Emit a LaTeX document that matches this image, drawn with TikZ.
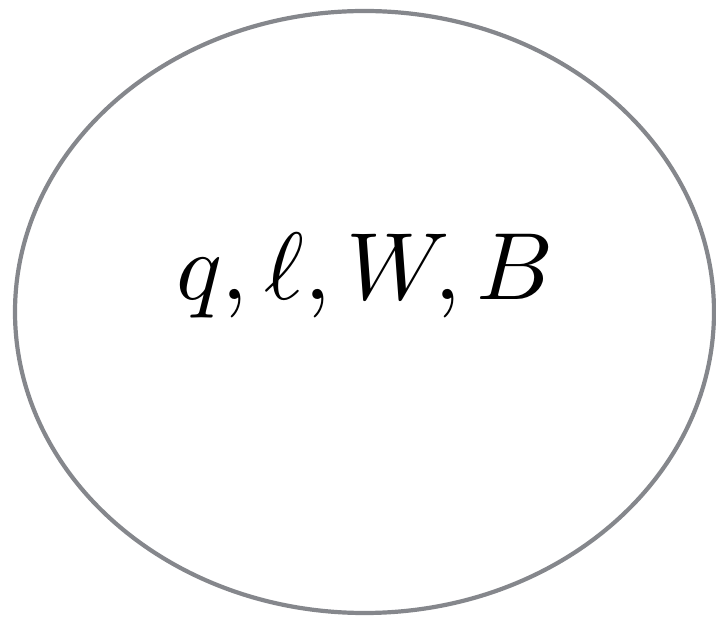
\documentclass[tikz,border=0pt]{standalone}
\definecolor{rimgray}{RGB}{133,135,140}
\tikzset{bubble/.style={draw=rimgray, line width=4.2pt, fill=white}}
\begin{document}
\begin{tikzpicture}[x=1pt,y=1pt]
\useasboundingbox (0,0) rectangle (716,619);
\draw[bubble] (364.5,307) ellipse [x radius=349.5, y radius=301];
\node[anchor=base, scale=9.55, inner sep=0pt] (lbl) at (365,319) {$q,\ell,W,B$};
\end{tikzpicture}
\end{document}
